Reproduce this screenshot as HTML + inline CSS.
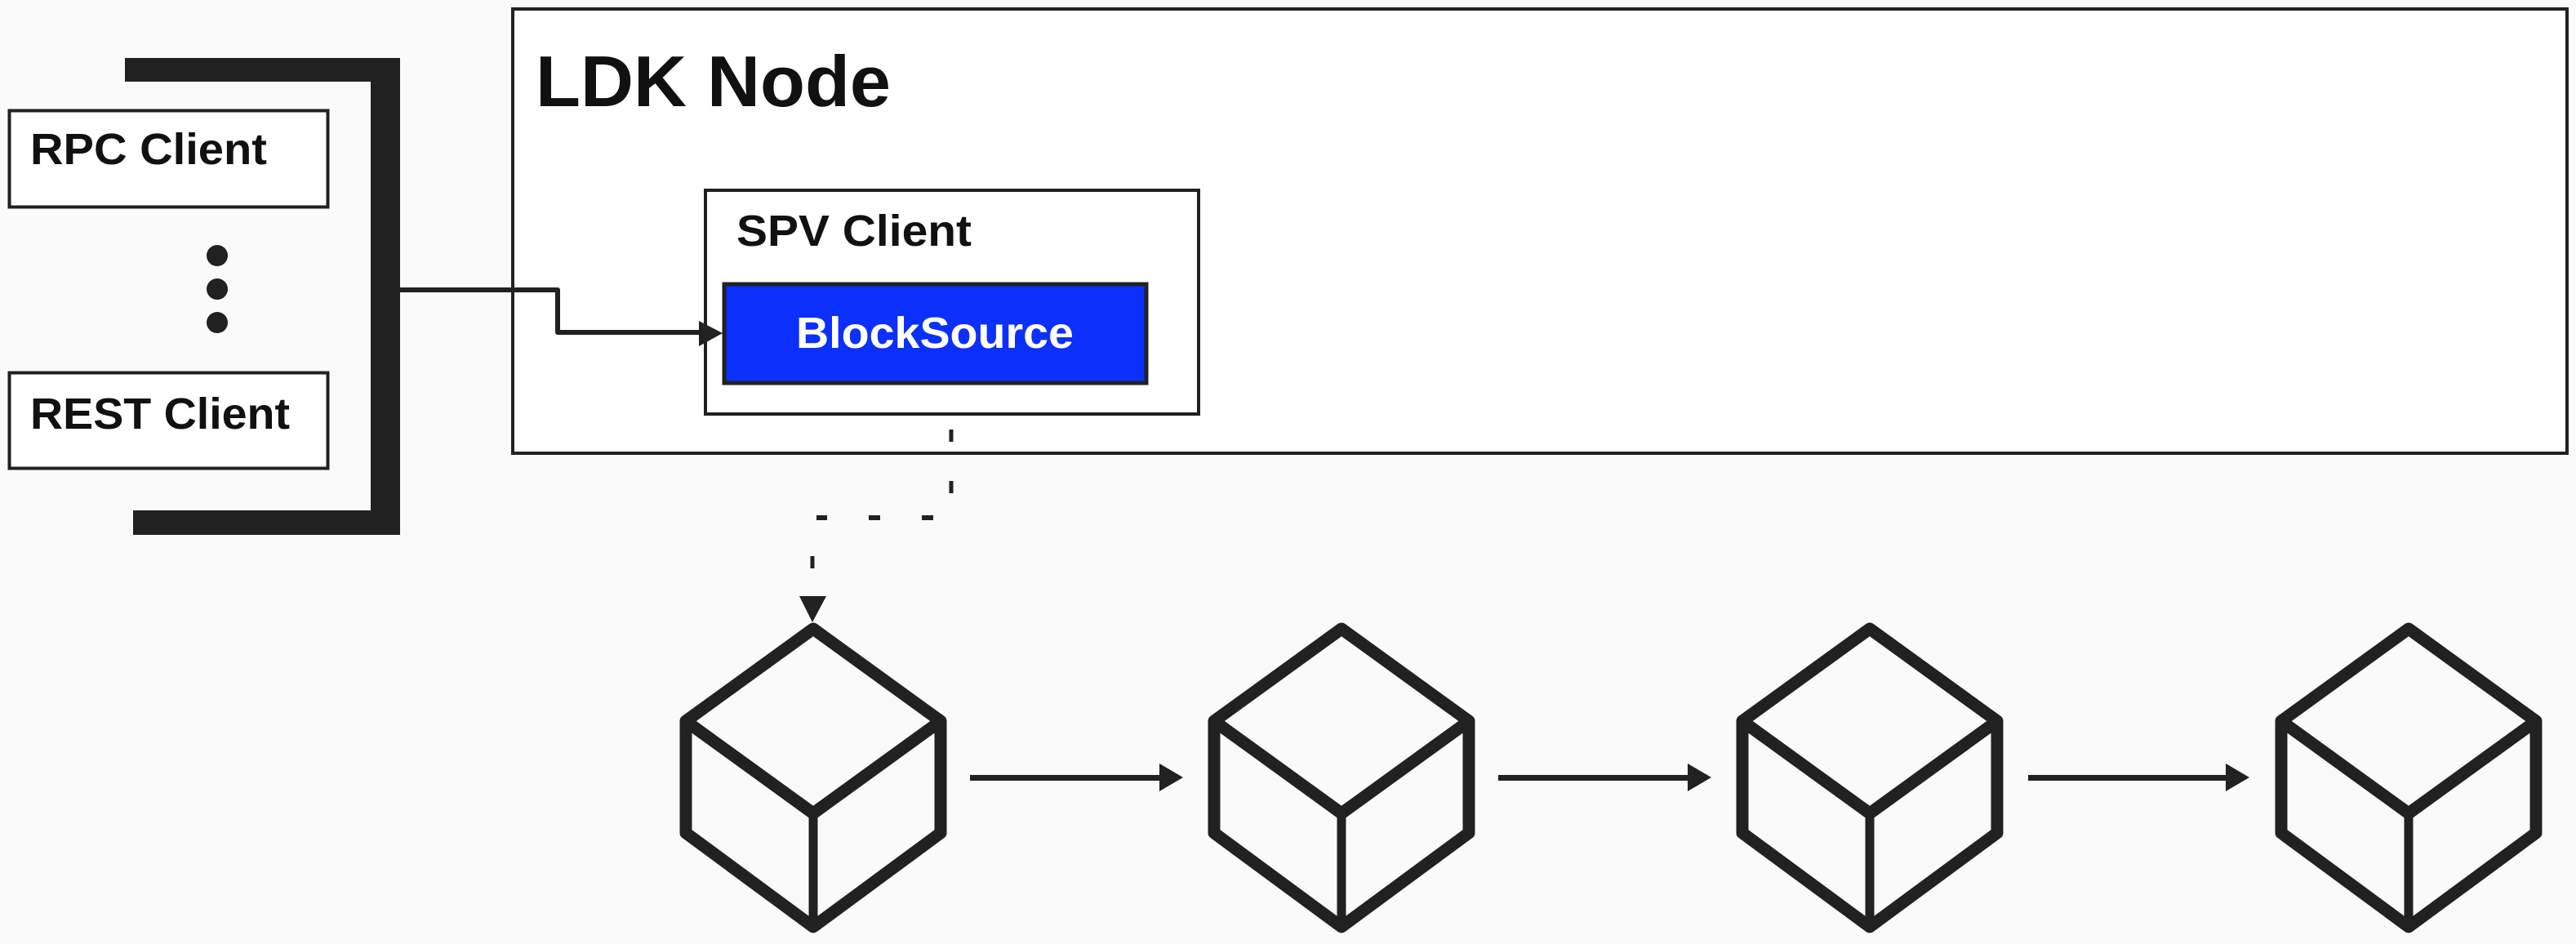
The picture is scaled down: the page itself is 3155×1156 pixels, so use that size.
<!DOCTYPE html>
<html><head><meta charset="utf-8"><style>
html,body{margin:0;padding:0;background:#fafafa;}
svg{display:block;}
text{font-family:"Liberation Sans",sans-serif;font-weight:bold;}
</style></head><body>
<svg width="3155" height="1156" viewBox="0 0 3155 1156" xmlns="http://www.w3.org/2000/svg">
<rect width="3155" height="1156" fill="#fafafa"/>
<rect x="153" y="71" width="337" height="29" fill="#212121"/>
<rect x="454" y="71" width="36" height="584" fill="#212121"/>
<rect x="163" y="625" width="327" height="30" fill="#212121"/>
<rect x="11.5" y="135.5" width="390" height="118" fill="#fff" stroke="#212121" stroke-width="4"/>
<text x="37" y="201" font-size="54" fill="#111" textLength="290" lengthAdjust="spacingAndGlyphs">RPC Client</text>
<circle cx="266" cy="313" r="13" fill="#212121"/>
<circle cx="266" cy="354" r="13" fill="#212121"/>
<circle cx="266" cy="395" r="13" fill="#212121"/>
<rect x="11.5" y="456.5" width="390" height="117" fill="#fff" stroke="#212121" stroke-width="4"/>
<text x="37" y="525" font-size="54" fill="#111" textLength="318" lengthAdjust="spacingAndGlyphs">REST Client</text>
<rect x="628" y="11" width="2516" height="544" fill="#fff" stroke="#212121" stroke-width="4"/>
<text x="656" y="130" font-size="88" fill="#111" textLength="435" lengthAdjust="spacingAndGlyphs">LDK Node</text>
<rect x="864" y="233" width="604" height="274" fill="#fff" stroke="#212121" stroke-width="4"/>
<text x="902" y="301" font-size="54" fill="#111" textLength="288" lengthAdjust="spacingAndGlyphs">SPV Client</text>
<rect x="887" y="348" width="517" height="121" fill="#0b30fb" stroke="#212121" stroke-width="5"/>
<text x="975" y="426" font-size="54" fill="#fff" textLength="340" lengthAdjust="spacingAndGlyphs">BlockSource</text>
<path d="M490 355 H683 V407 H860" fill="none" stroke="#212121" stroke-width="6" stroke-linejoin="round"/>
<polygon points="856,393 885,408 856,424" fill="#212121"/>
<path d="M1165 526 V605" fill="none" stroke="#212121" stroke-width="5" stroke-dasharray="15 48"/>
<path d="M1143 634 H1000" fill="none" stroke="#212121" stroke-width="6" stroke-dasharray="14 51"/>
<path d="M995 681 V712" fill="none" stroke="#212121" stroke-width="5" stroke-dasharray="15 48"/>
<polygon points="979,730 1012,730 995,762" fill="#212121"/>
<g fill="none" stroke="#212121" stroke-width="15" stroke-linejoin="round">
<path d="M996 770 L840 883 V1020 L996 1135 L1152 1020 V883 Z"/><path d="M840 883 L996 996 L1152 883"/><path d="M996 996 V1135" stroke-width="11"/>
</g>
<g fill="none" stroke="#212121" stroke-width="15" stroke-linejoin="round" transform="translate(647,0)">
<path d="M996 770 L840 883 V1020 L996 1135 L1152 1020 V883 Z"/><path d="M840 883 L996 996 L1152 883"/><path d="M996 996 V1135" stroke-width="11"/>
</g>
<g fill="none" stroke="#212121" stroke-width="15" stroke-linejoin="round" transform="translate(1294,0)">
<path d="M996 770 L840 883 V1020 L996 1135 L1152 1020 V883 Z"/><path d="M840 883 L996 996 L1152 883"/><path d="M996 996 V1135" stroke-width="11"/>
</g>
<g fill="none" stroke="#212121" stroke-width="15" stroke-linejoin="round" transform="translate(1954,0)">
<path d="M996 770 L840 883 V1020 L996 1135 L1152 1020 V883 Z"/><path d="M840 883 L996 996 L1152 883"/><path d="M996 996 V1135" stroke-width="11"/>
</g>
<g fill="#212121">
<rect x="1188" y="949" width="235" height="7"/><polygon points="1420,935 1449,952 1420,969"/>
<rect x="1835" y="949" width="235" height="7"/><polygon points="2067,935 2096,952 2067,969"/>
<rect x="2484" y="949" width="245" height="7"/><polygon points="2726,935 2755,952 2726,969"/>
</g>
</svg>
</body></html>
